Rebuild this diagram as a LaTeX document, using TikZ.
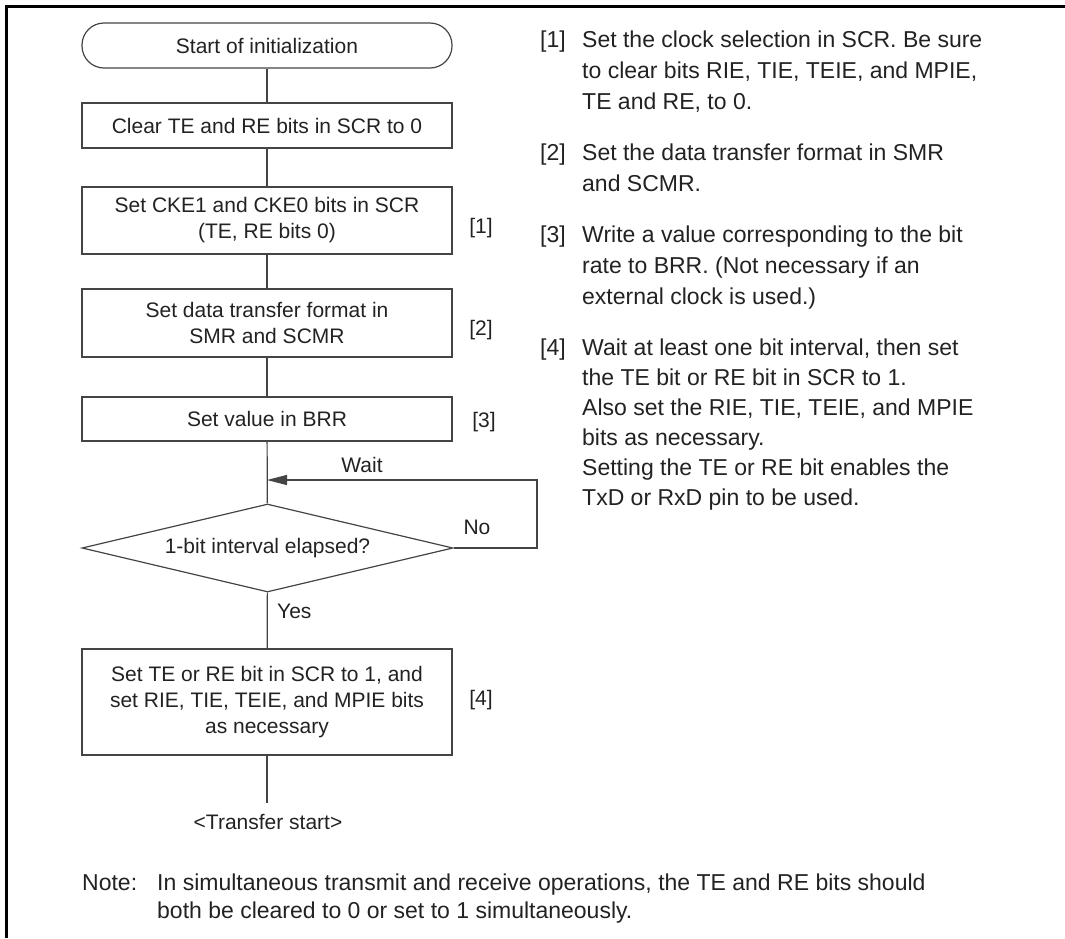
\documentclass[tikz,border=0pt]{standalone}
\usepackage{fontspec}
\setmainfont{Liberation Sans}
\usetikzlibrary{shapes.geometric,arrows.meta}
\definecolor{ink}{HTML}{222222}
\definecolor{edge}{HTML}{444444}
\tikzset{
  box/.style={draw=edge, line width=1.2pt, minimum width=370pt, inner sep=0pt, align=center, text=ink, font=\fontsize{21}{26}\selectfont},
  term/.style={box, rounded corners=22pt, minimum height=45pt},
  dec/.style={draw=edge, line width=1.2pt, shape=diamond, aspect=4.2, minimum width=371pt, minimum height=88pt, inner sep=0pt, text=ink, font=\fontsize{21}{26}\selectfont},
  lbl/.style={text=ink, inner sep=0pt, font=\fontsize{21}{26}\selectfont},
  rtxt/.style={text=ink, inner sep=0pt, anchor=base west, font=\fontsize{23}{30}\selectfont},
  conn/.style={draw=edge, line width=1.2pt},
}
\begin{document}
\begin{tikzpicture}[x=1pt,y=-1pt]
\useasboundingbox (0,0) rectangle (1065,938);
% frame
\draw[line width=3pt, black] (6.5,938) -- (6.5,6.5) -- (1065,6.5);
% flowchart
\node[term] (start) at (267,45.5) {Start of initialization};
\node[box, minimum height=45pt] (b1) at (267,125.5) {Clear TE and RE bits in SCR to 0};
\node[box, minimum height=67pt] (b2) at (267,220.5) {Set CKE1 and CKE0 bits in SCR\\(TE, RE bits 0)};
\node[box, minimum height=68pt] (b3) at (267,323) {Set data transfer format in\\SMR and SCMR};
\node[box, minimum height=44pt] (b4) at (267,419) {Set value in BRR};
\node[dec] (d) at (267.5,548) {1-bit interval elapsed?};
\node[box, minimum height=106pt] (b5) at (267,702) {Set TE or RE bit in SCR to 1, and\\set RIE, TIE, TEIE, and MPIE bits\\as necessary};
\node[lbl] (end) at (268,822) {<Transfer start>};
\coordinate (endtop) at (267,803);
\coordinate (join) at (267,480);
\coordinate (loopr) at (537,548);
\coordinate (loopt) at (537,480);

\draw[conn] (start) -- (b1);
\draw[conn] (b1) -- (b2);
\draw[conn] (b2) -- (b3);
\draw[conn] (b3) -- (b4);
\draw[conn] (b4) -- (d);
\draw[conn] (d) -- (b5);
\draw[conn] (b5) -- (endtop);
\draw[conn, -{Triangle[length=20pt,width=10pt]}] (d.east) -- (loopr) -- (loopt) -- (join);

% labels
\node[lbl] (l1) at (481,228) {[1]};
\node[lbl] (l2) at (481,330) {[2]};
\node[lbl] (l3) at (484,422) {[3]};
\node[lbl] (l4) at (481,700) {[4]};
\node[lbl] (wait) at (362,465) {Wait};
\node[lbl] (no) at (477,527) {No};
\node[lbl, anchor=west] (yes) at (277,611) {Yes};

% right column
\node[rtxt] (n1) at (540,47) {[1]};
\node[rtxt] (t1a) at (582,47) {Set the clock selection in SCR. Be sure};
\node[rtxt] (t1b) at (582,78) {to clear bits RIE, TIE, TEIE, and MPIE,};
\node[rtxt] (t1c) at (582,109) {TE and RE, to 0.};
\node[rtxt] (n2) at (540,160) {[2]};
\node[rtxt] (t2a) at (582,160) {Set the data transfer format in SMR};
\node[rtxt] (t2b) at (582,191) {and SCMR.};
\node[rtxt] (n3) at (540,242) {[3]};
\node[rtxt] (t3a) at (582,242) {Write a value corresponding to the bit};
\node[rtxt] (t3b) at (582,273) {rate to BRR. (Not necessary if an};
\node[rtxt] (t3c) at (582,304) {external clock is used.)};
\node[rtxt] (n4) at (540,355) {[4]};
\node[rtxt] (t4a) at (582,355) {Wait at least one bit interval, then set};
\node[rtxt] (t4b) at (582,385) {the TE bit or RE bit in SCR to 1.};
\node[rtxt] (t4c) at (582,415) {Also set the RIE, TIE, TEIE, and MPIE};
\node[rtxt] (t4d) at (582,445) {bits as necessary.};
\node[rtxt] (t4e) at (582,475) {Setting the TE or RE bit enables the};
\node[rtxt] (t4f) at (582,505) {TxD or RxD pin to be used.};

% note
\node[rtxt] (note) at (82,890) {Note:};
\node[rtxt] (nt1) at (157,890) {In simultaneous transmit and receive operations, the TE and RE bits should};
\node[rtxt] (nt2) at (157,918) {both be cleared to 0 or set to 1 simultaneously.};
\end{tikzpicture}
\end{document}
